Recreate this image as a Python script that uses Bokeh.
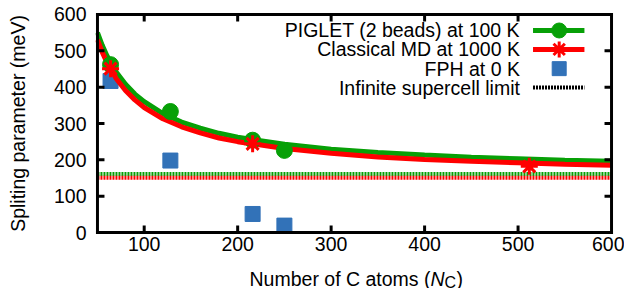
from bokeh.plotting import figure
from bokeh.layouts import column
from bokeh.models import Range1d, FixedTicker
from bokeh.embed import file_html
from bokeh.resources import INLINE

# ---- data ----
n_piglet = [64, 128, 216, 250]
e_piglet = [462, 333, 254, 226]
n_md = [64, 216, 512]
e_md = [451, 244, 182]
n_fph = [64, 128, 216, 250]
e_fph = [417, 198, 51, 19]
fit_n = [50, 55, 60, 70, 80, 90, 100, 120, 140, 160, 180, 200, 250, 300, 350, 400, 450, 500, 550, 600]
fit_piglet = [550, 516, 487, 442, 408, 381, 360, 327, 304, 287, 273, 262, 243, 229, 220, 213, 207, 203, 199, 196]
fit_md = [530, 497, 469, 424, 391, 365, 344, 313, 291, 274, 260, 250, 231, 218, 208, 201, 196, 192, 188, 185]
limit_piglet = 161
limit_md = 151
x_ticks = [100, 200, 300, 400, 500, 600]
y_ticks = [0, 100, 200, 300, 400, 500, 600]
legend_labels = ["PIGLET (2 beads) at 100 K", "Classical MD at 1000 K", "FPH at 0 K", "Infinite supercell limit"]

X0, X1 = 50, 600      # axis limits
Y0, Y1 = 0, 600
PADX, PADY = 2.1, 5.5  # small pad so the frame box is not clipped
TX, TY = 7.5, 19       # inward tick length in data units (~7 px)
HX, HY = 1.6, 4.1      # half thickness of frame / ticks in data units (~1.5 px)

GREEN = "#07a007"
RED = "#ff0000"
BLUE = "#3272b8"
FONT = "Liberation Sans"
FS = "19.5px"

p = figure(width=624, height=262, output_backend="svg", toolbar_location=None,
           x_range=Range1d(X0 - PADX, X1 + PADX), y_range=Range1d(Y0 - PADY, Y1 + PADY),
           min_border_left=95, min_border_right=11, min_border_top=12, min_border_bottom=28)
p.xgrid.grid_line_color = None
p.ygrid.grid_line_color = None
p.outline_line_color = None

p.xaxis.ticker = FixedTicker(ticks=x_ticks)
p.yaxis.ticker = FixedTicker(ticks=y_ticks)
p.yaxis.axis_label = "Spliting parameter (meV)"
p.yaxis.axis_label_text_font_style = "normal"
p.yaxis.axis_label_text_font = FONT
p.yaxis.axis_label_text_font_size = FS
p.yaxis.axis_label_text_color = "black"
p.yaxis.axis_label_standoff = 22
for ax in list(p.xaxis) + list(p.yaxis):
    ax.axis_line_color = None
    ax.major_tick_line_color = None
    ax.minor_tick_line_color = None
    ax.major_tick_in = 0
    ax.major_tick_out = 0
    ax.major_label_text_font = FONT
    ax.major_label_text_font_size = FS
    ax.major_label_text_color = "black"
p.xaxis.major_label_standoff = 2
p.yaxis.major_label_standoff = 9

# limits
p.line(x=[X0, X1], y=[limit_piglet, limit_piglet], line_color=GREEN, line_width=4, line_dash="2 1")
p.line(x=[X0, X1], y=[limit_md, limit_md], line_color=RED, line_width=4, line_dash="2 1")
# FPH
p.scatter(x=n_fph, y=e_fph, marker="square", size=15, fill_color=BLUE, line_color=BLUE)
# fits
p.line(x=fit_n, y=fit_piglet, line_color=GREEN, line_width=5)
p.line(x=fit_n, y=fit_md, line_color=RED, line_width=5)
# points
p.scatter(x=n_piglet, y=e_piglet, marker="circle", size=16, fill_color=GREEN, line_color=GREEN)
p.scatter(x=n_md, y=e_md, marker="asterisk", size=17, line_color=RED, line_width=3)

# frame box (as filled bars) and inward ticks on all four sides
p.quad(left=[X0 - HX, X0 - HX, X0 - HX, X1 - HX], right=[X1 + HX, X1 + HX, X0 + HX, X1 + HX],
       bottom=[Y0 - HY, Y1 - HY, Y0 - HY, Y0 - HY], top=[Y0 + HY, Y1 + HY, Y1 + HY, Y1 + HY],
       fill_color="black", line_color=None)
xt = x_ticks[:-1]
yt = y_ticks[1:-1]
p.quad(left=[t - HX for t in xt] * 2, right=[t + HX for t in xt] * 2,
       bottom=[Y0] * len(xt) + [Y1 - TY] * len(xt), top=[Y0 + TY] * len(xt) + [Y1] * len(xt),
       fill_color="black", line_color=None)
p.quad(left=[X0] * len(yt) + [X1 - TX] * len(yt), right=[X0 + TX] * len(yt) + [X1] * len(yt),
       bottom=[t - HY for t in yt] * 2, top=[t + HY for t in yt] * 2,
       fill_color="black", line_color=None)

# legend (drawn by hand: text right-aligned, sample to the right)
ly = [556, 504, 451, 399]
p.text(x=[502] * 4, y=ly, text=legend_labels, text_align="right", text_baseline="middle",
       text_font={"value": FONT}, text_font_size={"value": FS}, text_color="black")
p.line(x=[516, 571], y=[ly[0], ly[0]], line_color=GREEN, line_width=5)
p.scatter(x=[544], y=[ly[0]], marker="circle", size=15, fill_color=GREEN, line_color=GREEN)
p.line(x=[516, 571], y=[ly[1], ly[1]], line_color=RED, line_width=5)
p.scatter(x=[544], y=[ly[1]], marker="asterisk", size=16, line_color=RED, line_width=3)
p.scatter(x=[544], y=[ly[2]], marker="square", size=14, fill_color=BLUE, line_color=BLUE)
p.line(x=[516, 571], y=[ly[3], ly[3]], line_color="black", line_width=4, line_dash="2 1")

# x-axis title in a strip below, sharing the x mapping (italic N, subscript C)
q = figure(width=624, height=26, output_backend="svg", toolbar_location=None,
           x_range=p.x_range, y_range=Range1d(0, 26),
           min_border_left=95, min_border_right=11, min_border_top=0, min_border_bottom=0)
q.axis.visible = False
q.xgrid.grid_line_color = None
q.ygrid.grid_line_color = None
q.outline_line_color = None
base = 10
q.text(x=[406.3], y=[base], text=["Number of C atoms ("], text_align="right", text_baseline="alphabetic",
       text_font={"value": FONT}, text_font_size={"value": FS}, text_color="black")
q.text(x=[406.3], y=[base], text=["N"], text_align="left", text_baseline="alphabetic",
       text_font={"value": FONT}, text_font_style="italic", text_font_size={"value": FS}, text_color="black")
q.text(x=[421.3], y=[base - 4], text=["C"], text_align="left", text_baseline="alphabetic",
       text_font={"value": FONT}, text_font_size={"value": "16px"}, text_color="black")
q.text(x=[434.2], y=[base], text=[")"], text_align="left", text_baseline="alphabetic",
       text_font={"value": FONT}, text_font_size={"value": FS}, text_color="black")

open("out.html", "w").write(file_html(column(p, q, spacing=0), INLINE))
